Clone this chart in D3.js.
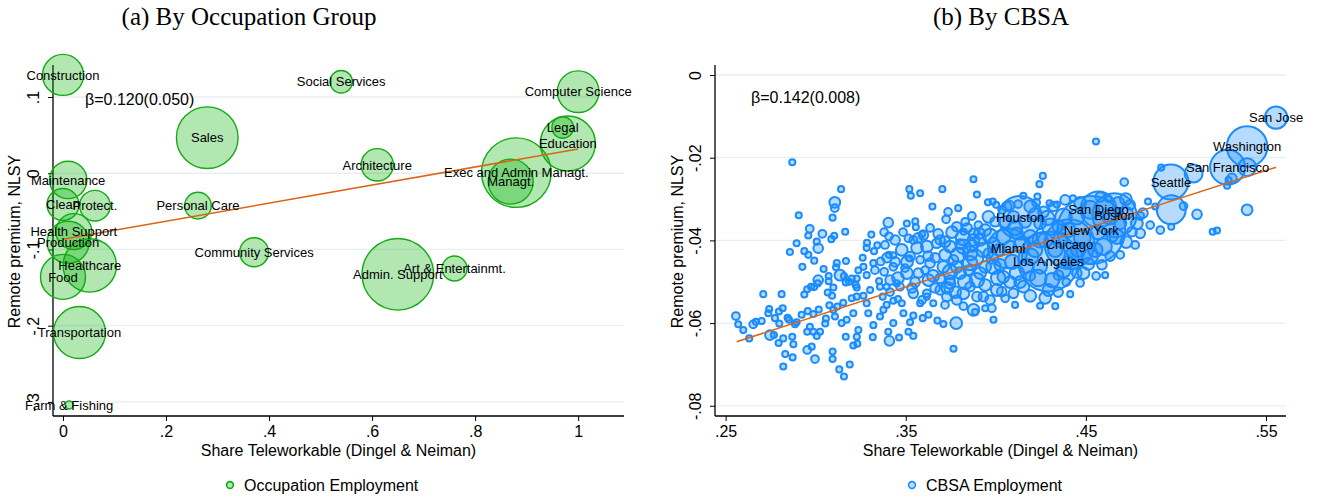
<!DOCTYPE html>
<html><head><meta charset="utf-8">
<script src="https://cdn.jsdelivr.net/npm/d3@7"></script>
<style>
body{margin:0;background:#fff}
svg{display:block}
text{font-family:"Liberation Sans",Arial,Helvetica,sans-serif;fill:#000}
</style></head>
<body><svg id="chart" width="1322" height="501"></svg>
<script>
// ---------------- DATA ----------------
// Panel (a): occupation groups
const occNames = ["Construction","Sales","Maintenance","Clean","Protect.","Personal Care","Health Support","Production",
  "Community Services","Healthcare","Food","Transportation","Farm & Fishing","Social Services","Computer Science",
  "Legal","Education","Architecture","Exec and Admin Managt.","Managt.","Admin. Support","Art & Entertainmt."];
const occShare = [0.000,0.280,0.010,0.000,0.062,0.262,0.021,0.010,0.371,0.052,0.000,0.032,0.012,0.540,1.000,
  0.970,0.980,0.610,0.880,0.869,0.650,0.760];
const occPremium = [0.129,0.0467,-0.0088,-0.041,-0.0425,-0.0425,-0.0766,-0.0906,-0.1037,-0.121,-0.136,-0.209,-0.304,0.120,0.107,
  0.060,0.039,0.011,0.0008,-0.011,-0.1326,-0.125];
const occEmp = [5.82,13.13,4.84,3.54,3.24,2.45,4.48,6.10,2.91,9.87,7.01,9.36,0.22,1.74,5.99,
  1.61,10.47,3.63,16.76,7.01,17.74,2.16];
const occFitShare = [0, 1];
const occFitPremium = [-0.0866, 0.0319];
const occXTicks = [0,0.2,0.4,0.6,0.8,1];
const occXTickLabels = ["0",".2",".4",".6",".8","1"];
const occYTicks = [-0.3,-0.2,-0.1,0,0.1];
const occYTickLabels = ["-.3","-.2","-.1","0",".1"];

// Panel (b): CBSAs (unlabelled)
const cbsaShare = [
.2870,.3141,.3106,.3106,.3520,.3528,.3580,.3703,.3648,.3724,
.2906,.3094,.2967,.2959,.3037,.3103,.3087,.3164,.2894,.2857,
.3006,.3014,.2937,.2959,.2926,.2992,.3044,.3117,.3113,.3168,
.3072,.3072,.3135,.3157,.3014,.3011,.2991,.2953,.3167,.3185,
.3200,.3228,.3222,.3228,.3283,.3285,.3309,.3342,.3324,.3403,
.3407,.3506,.3553,.3556,.3406,.3431,.3478,.3515,.3520,.3361,
.3320,.3261,.3265,.3237,.3283,.3352,.3357,.3394,.3450,.2557,
.2570,.2598,.2631,.2653,.2668,.2700,.2709,.2737,.2742,.2796,
.2811,.2817,.2798,.2774,.2844,.2852,.2885,.2894,.2922,.2956,
.2746,.2768,.2794,.2820,.2870,.2876,.2831,.2872,.2820,.2937,
.2974,.2968,.2953,.2987,.3024,.2953,.2978,.2996,.3094,.3094,
.3189,.3131,.3157,.3067,.3091,.3076,.3098,.3120,.3153,.3107,
.3144,.3172,.3209,.3200,.3228,.3265,.3283,.3292,.3320,.3357,
.3376,.3394,.3372,.3431,.3478,.3487,.3542,.3524,.3431,.3403,
.3409,.3463,.3515,.3542,.3317,.3237,.3228,.3209,.3231,.3167,
.3006,.3053,.3057,.3017,.2987,.3098,.3594,.3626,.3676,.3709,
.3653,.3580,.3617,.3765,.3780,.3876,.3876,.3895,.3867,.3822,
.3903,.3909,.3956,.3959,.3591,.4556,.4261,.4242,.4713,.4153,
.3983,.4002,.4076,.4231,.4298,.4428,.4626,.4722,.4845,.4885,
.4913,.4974,.5042,.5117,.5395,.5204,.5228,.4918,.5098,.4974,
.5284,.5292,.5395,.5311,
.3542,.3598,.3617,.3672,.3718,.3746,.3802,.3857,.3913,.3876,
.3765,.3709,.3635,.3580,.3524,.3506,.3570,.3626,.3691,.3746,
.3802,.3848,.3895,.3941,.3959,.3468,.3542,.3617,.3728,.3820,
.3895,.3431,.3413,.3783,.3830,.3691,.3820,.3876,.3931,.3987,
.4042,.4080,.3783,.3857,.3913,.3987,.4042,.4117,.4153,.4098,
.4006,.3857,.3746,.4191,.4246,.4191,.4117,.4302,.4246,.4098,
.4061,.4191,.4265,.4320,.4376,.4450,.4524,.4635,.4691,.4728,
.4672,.4598,.4524,.4431,.4376,.4487,.4589,.4450,.4348,.4292,
.4246,.4052,.3978,.3820,.3783,.3931,.4033,.4191,.4246,.3987,
.3941,.4783,.4802,.4857,.4756,.4817,.4339,.3441,.3496,.3552,
.3607,.3663,.3413,.3457,.3663,.3718,.3302,.3329,.3385,
.3380,.3441,.3485,.3563,.3635,.3680,.3396,.3457,.3535,.3591,
.3652,.3691,.3380,.3507,.3624,.3568,
.3735,.3791,.3841,.3941,.3996,.3757,.3818,.3968,.4018,.3718,
.3791,.3885,.3980,.3746,.3830,.3941,.4013,.3774,.3968,.4024,
.3868,.3730,
.4052,.4107,.4163,.4218,.4285,.4346,.4146,.4218,.4274,.4330,
.4091,.4168,.4235,.4313,.4135,.4191,.4274,.4346,.4080,.4035,
.4124,.4224,.4357,
.4385,.4468,.4580,.4680,.4746,.4402,.4480,.4568,.4646,.4724,
.4457,.4552,.4635,.4402,.4513,.4391,.4468,.4557,.4774,.4802,
.4691,.4607,.4413,.4330,.4107,.3885];
const cbsaPremium = [
-.0211,-.0276,-.0308,-.0322,-.0276,-.0292,-.0286,-.0276,-.0318,-.0349,
-.0339,-.0345,-.0372,-.0388,-.0384,-.0389,-.0397,-.0379,-.0407,-.0428,
-.0403,-.0419,-.0426,-.0435,-.0464,-.0449,-.0469,-.0455,-.0465,-.0450,
-.0486,-.0499,-.0484,-.0486,-.0496,-.0504,-.0513,-.0518,-.0502,-.0500,
-.0492,-.0492,-.0508,-.0514,-.0418,-.0406,-.0386,-.0412,-.0426,-.0357,
-.0390,-.0359,-.0354,-.0368,-.0435,-.0436,-.0423,-.0395,-.0443,-.0451,
-.0455,-.0442,-.0464,-.0472,-.0484,-.0498,-.0512,-.0512,-.0504,-.0583,
-.0603,-.0617,-.0637,-.0603,-.0597,-.0595,-.0530,-.0576,-.0566,-.0572,
-.0530,-.0564,-.0601,-.0588,-.0587,-.0592,-.0603,-.0598,-.0580,-.0571,
-.0629,-.0629,-.0648,-.0637,-.0633,-.0651,-.0675,-.0683,-.0705,-.0531,
-.0512,-.0609,-.0621,-.0621,-.0621,-.0665,-.0657,-.0687,-.0669,-.0687,
-.0700,-.0712,-.0729,-.0526,-.0534,-.0557,-.0568,-.0560,-.0551,-.0584,
-.0600,-.0592,-.0576,-.0540,-.0536,-.0534,-.0552,-.0576,-.0605,-.0584,
-.0568,-.0556,-.0536,-.0546,-.0552,-.0576,-.0582,-.0598,-.0600,-.0621,
-.0643,-.0635,-.0621,-.0631,-.0634,-.0617,-.0633,-.0654,-.0650,-.0633,
-.0631,-.0601,-.0589,-.0567,-.0578,-.0514,-.0588,-.0580,-.0594,-.0602,
-.0552,-.0552,-.0536,-.0662,-.0600,-.0568,-.0252,-.0289,-.0341,-.0379,
-.0363,-.0383,-.0308,-.0343,-.0385,-.0161,-.0244,-.0264,-.0259,-.0292,
-.0306,-.0314,-.0316,-.0294,-.0310,-.0298,-.0300,-.0300,-.0306,-.0318,
-.0375,-.0367,-.0317,-.0337,-.0326,-.0379,-.0376,-.0224,-.0238,-.0326,
-.0268,-.0254,-.0223,-.0250,
-.0399,-.0387,-.0415,-.0407,-.0403,-.0415,-.0409,-.0431,-.0399,-.0383,
-.0447,-.0464,-.0455,-.0447,-.0439,-.0479,-.0479,-.0496,-.0492,-.0504,
-.0479,-.0472,-.0496,-.0464,-.0431,-.0512,-.0528,-.0528,-.0536,-.0528,
-.0536,-.0464,-.0496,-.0367,-.0355,-.0399,-.0415,-.0399,-.0423,-.0407,
-.0391,-.0415,-.0464,-.0455,-.0479,-.0464,-.0488,-.0479,-.0512,-.0528,
-.0520,-.0512,-.0496,-.0439,-.0399,-.0391,-.0383,-.0367,-.0359,-.0343,
-.0318,-.0318,-.0331,-.0318,-.0343,-.0343,-.0326,-.0343,-.0359,-.0334,
-.0391,-.0415,-.0439,-.0439,-.0472,-.0479,-.0459,-.0479,-.0484,-.0520,
-.0558,-.0540,-.0564,-.0559,-.0544,-.0536,-.0524,-.0486,-.0464,-.0592,
-.0564,-.0359,-.0383,-.0363,-.0379,-.0334,-.0313,-.0452,-.0467,-.0501,
-.0472,-.0442,-.0525,-.0542,-.0515,-.0556,-.0520,-.0472,-.0411,
-.0380,-.0399,-.0380,-.0418,-.0370,-.0384,-.0442,-.0491,-.0515,-.0544,
-.0486,-.0520,-.0476,-.0452,-.0438,-.0394,
-.0331,-.0322,-.0370,-.0375,-.0355,-.0380,-.0394,-.0389,-.0423,-.0435,
-.0435,-.0442,-.0442,-.0476,-.0501,-.0508,-.0491,-.0525,-.0544,-.0459,
-.0413,-.0515,
-.0355,-.0370,-.0355,-.0336,-.0346,-.0365,-.0411,-.0423,-.0399,-.0423,
-.0452,-.0462,-.0491,-.0496,-.0501,-.0534,-.0539,-.0525,-.0501,-.0326,
-.0312,-.0309,-.0399,
-.0302,-.0309,-.0295,-.0309,-.0314,-.0375,-.0394,-.0380,-.0389,-.0404,
-.0423,-.0423,-.0438,-.0452,-.0457,-.0501,-.0503,-.0486,-.0411,-.0341,
-.0435,-.0484,-.0530,-.0559,-.0556,-.0573];
const cbsaEmp = [
80,80,250,130,80,80,80,80,80,130,
80,80,130,80,130,80,80,80,80,80,
80,200,80,80,80,80,80,80,80,80,
80,80,250,80,200,80,80,80,80,80,
80,80,80,80,80,80,80,80,80,200,
130,80,80,80,80,80,300,130,80,130,
80,80,80,80,80,80,80,80,80,130,
80,80,80,130,80,80,80,80,80,80,
80,80,80,80,80,80,80,80,80,80,
200,80,80,80,80,80,80,80,80,80,
80,80,80,80,80,130,80,130,80,80,
80,80,80,80,80,80,80,80,80,80,
80,80,80,80,80,80,80,80,80,80,
80,80,80,80,80,80,80,80,80,80,
200,80,80,80,80,80,80,80,80,80,
80,80,80,80,80,80,80,80,80,80,
80,80,80,80,300,300,80,80,130,80,
130,250,80,300,80,80,80,80,130,80,
80,80,200,80,80,80,80,300,80,80,
130,80,130,200,250,80,80,80,700,1800,
80,80,700,200,
130,200,300,200,250,300,200,450,300,200,
200,300,200,130,200,300,200,300,200,250,
300,200,450,300,200,130,200,130,200,300,
200,130,200,200,130,200,450,300,450,300,
450,300,300,450,300,450,300,450,300,200,
300,200,200,600,500,400,300,600,300,300,
200,300,250,200,600,500,700,500,300,300,
450,600,500,700,450,300,200,200,200,300,
80,130,130,130,200,200,200,200,400,80,
80,300,200,130,200,200,80,200,130,200,
130,200,130,80,200,130,80,130,130,
130,200,130,300,130,200,200,300,200,130,
300,200,130,300,200,200,
130,80,200,300,200,300,450,450,300,300,
450,600,300,450,450,300,450,300,200,300,
300,300,
300,450,300,300,450,300,600,450,450,450,
450,450,600,450,300,300,300,200,300,130,
130,130,450,
200,300,200,300,200,450,600,450,300,300,
450,450,200,300,300,130,130,130,130,130,
130,80,80,80,80,80];

// Panel (b): labelled CBSAs
const cityNames = ["Houston","Miami","Los Angeles","Chicago","New York","San Diego","Boston","Seattle","San Francisco","Washington","San Jose"];
const cityShare = [0.4135,0.4068,0.4292,0.4409,0.4530,0.4570,0.4659,0.4972,0.5287,0.5395,0.5556];
const cityPremium = [-0.0345,-0.0419,-0.0451,-0.0409,-0.0375,-0.0325,-0.0339,-0.0259,-0.0223,-0.0173,-0.0103];
const cityEmp = [4100,3500,7800,5400,10000,2800,4200,2650,2650,3560,1085];
const cbsaFitShare = [0.2561, 0.5556];
const cbsaFitPremium = [-0.0645, -0.0223];
const cbsaXTicks = [0.25,0.35,0.45,0.55];
const cbsaXTickLabels = [".25",".35",".45",".55"];
const cbsaYTicks = [-0.08,-0.06,-0.04,-0.02,0];
const cbsaYTickLabels = ["-.08","-.06","-.04","-.02","0"];

// ---------------- DRAWING ----------------
const svg = d3.select("#chart");
svg.append("rect").attr("width",1322).attr("height",501).attr("fill","#fff");

function panel(o){
  const x = d3.scaleLinear().domain(o.xDom).range([o.left,o.right]);
  const y = d3.scaleLinear().domain(o.yDom).range([o.bottom,o.top]);
  const g = svg.append("g");
  g.append("g").selectAll("line").data(o.yTicks).join("line")
    .attr("x1",o.left).attr("x2",o.right)
    .attr("y1",d=>y(d)).attr("y2",d=>y(d))
    .attr("stroke","#e7eff1").attr("stroke-width",1.3);
  const ya = g.append("g").attr("transform",`translate(${o.left},0)`)
    .call(d3.axisLeft(y).tickValues(o.yTicks).tickFormat((d,i)=>o.yTickLabels[i]).tickSize(5));
  ya.select(".domain").remove();
  ya.selectAll(".tick line").attr("stroke","#000").attr("stroke-width",1);
  ya.selectAll(".tick text").attr("transform","rotate(-90)").attr("x",0).attr("y",-14).attr("dy",0)
    .attr("text-anchor","middle").style("font-size","16px").attr("fill","#000");
  g.append("line").attr("x1",o.left).attr("x2",o.left).attr("y1",o.top).attr("y2",o.bottom)
    .attr("stroke","#000").attr("stroke-width",1.3);
  const xa = g.append("g").attr("transform",`translate(0,${o.bottom})`)
    .call(d3.axisBottom(x).tickValues(o.xTicks).tickFormat((d,i)=>o.xTickLabels[i]).tickSize(5));
  xa.select(".domain").remove();
  xa.selectAll(".tick line").attr("stroke","#000").attr("stroke-width",1);
  xa.selectAll(".tick text").attr("y",21).attr("dy",0).style("font-size","16px").attr("fill","#000");
  g.append("line").attr("x1",o.left).attr("x2",o.right).attr("y1",o.bottom).attr("y2",o.bottom)
    .attr("stroke","#000").attr("stroke-width",1.3);
  g.append("text").attr("x",(o.left+o.right)/2).attr("y",456).attr("text-anchor","middle")
    .style("font-size","16px").text("Share Teleworkable (Dingel & Neiman)");
  g.append("text").attr("transform",`translate(${o.yTitleX},${(o.top+o.bottom)/2+1}) rotate(-90)`)
    .attr("text-anchor","middle").style("font-size","16px").text("Remote premium, NLSY");
  return {x,y,g};
}

// Panel (a)
const A = panel({xDom:[-0.0194,1.089], yDom:[-0.3185,0.142], left:53, right:624, top:65, bottom:416,
  xTicks:occXTicks, xTickLabels:occXTickLabels, yTicks:occYTicks, yTickLabels:occYTickLabels, yTitleX:20});
const rA = d3.scaleSqrt().domain([0, d3.max(occEmp)]).range([0, 35.8]);
const idxA = d3.range(occNames.length);
A.g.append("g").selectAll("circle").data(idxA).join("circle")
  .attr("cx",i=>A.x(occShare[i])).attr("cy",i=>A.y(occPremium[i])).attr("r",i=>rA(occEmp[i]))
  .attr("fill","rgba(0,176,0,0.30)").attr("stroke","#14aa14").attr("stroke-width",1.4);
A.g.append("path").datum(d3.range(occFitShare.length))
  .attr("d", d3.line().x(i=>A.x(occFitShare[i])).y(i=>A.y(occFitPremium[i])))
  .attr("stroke","#dc6414").attr("stroke-width",1.5).attr("fill","none");
A.g.append("g").selectAll("text").data(idxA).join("text")
  .attr("x",i=>A.x(occShare[i])).attr("y",i=>A.y(occPremium[i])).attr("dy","0.36em")
  .attr("text-anchor","middle").style("font-size","13px").attr("fill","#111").text(i=>occNames[i]);
A.g.append("text").attr("x",85).attr("y",105).style("font-size","16px").text("β=0.120(0.050)");

// Panel (b)
const B = panel({xDom:[0.2441,0.5611], yDom:[-0.08247,0.00242], left:715, right:1286, top:65, bottom:416,
  xTicks:cbsaXTicks, xTickLabels:cbsaXTickLabels, yTicks:cbsaYTicks, yTickLabels:cbsaYTickLabels, yTitleX:683});
const rB = d3.scaleSqrt().domain([0,10000]).range([0,34]);
const idxB = d3.range(cbsaShare.length);
const idxC = d3.range(cityNames.length);
const ptsB = B.g.append("g");
ptsB.selectAll("circle.c").data(idxC).join("circle").attr("class","c")
  .attr("cx",i=>B.x(cityShare[i])).attr("cy",i=>B.y(cityPremium[i])).attr("r",i=>rB(cityEmp[i]))
  .attr("fill","rgba(30,144,255,0.32)").attr("stroke","#1a8cff").attr("stroke-width",2);
ptsB.selectAll("circle.s").data(idxB).join("circle").attr("class","s")
  .attr("cx",i=>B.x(cbsaShare[i])).attr("cy",i=>B.y(cbsaPremium[i])).attr("r",i=>rB(cbsaEmp[i]))
  .attr("fill","rgba(30,144,255,0.32)").attr("stroke","#1a8cff").attr("stroke-width",2);
B.g.append("path").datum(d3.range(cbsaFitShare.length))
  .attr("d", d3.line().x(i=>B.x(cbsaFitShare[i])).y(i=>B.y(cbsaFitPremium[i])))
  .attr("stroke","#dc6414").attr("stroke-width",1.5).attr("fill","none");
B.g.append("g").selectAll("text").data(idxC).join("text")
  .attr("x",i=>B.x(cityShare[i])).attr("y",i=>B.y(cityPremium[i])).attr("dy","0.36em")
  .attr("text-anchor","middle").style("font-size","13px").attr("fill","#111").text(i=>cityNames[i]);
B.g.append("text").attr("x",751).attr("y",103).style("font-size","16px").text("β=0.142(0.008)");

// Panel titles
svg.append("text").attr("x",249).attr("y",25).attr("text-anchor","middle")
  .style("font-family","'Liberation Serif','Times New Roman',serif").style("font-size","25px").text("(a) By Occupation Group");
svg.append("text").attr("x",1001).attr("y",25).attr("text-anchor","middle")
  .style("font-family","'Liberation Serif','Times New Roman',serif").style("font-size","25px").text("(b) By CBSA");

// Legends
svg.append("circle").attr("cx",230).attr("cy",485).attr("r",3.4)
  .attr("fill","rgba(0,176,0,0.30)").attr("stroke","#14aa14").attr("stroke-width",1.6);
svg.append("text").attr("x",244).attr("y",491).style("font-size","16px").text("Occupation Employment");
svg.append("circle").attr("cx",912).attr("cy",485).attr("r",3.4)
  .attr("fill","rgba(30,144,255,0.30)").attr("stroke","#1a8cff").attr("stroke-width",1.6);
svg.append("text").attr("x",926).attr("y",491).style("font-size","16px").text("CBSA Employment");
</script></body></html>
